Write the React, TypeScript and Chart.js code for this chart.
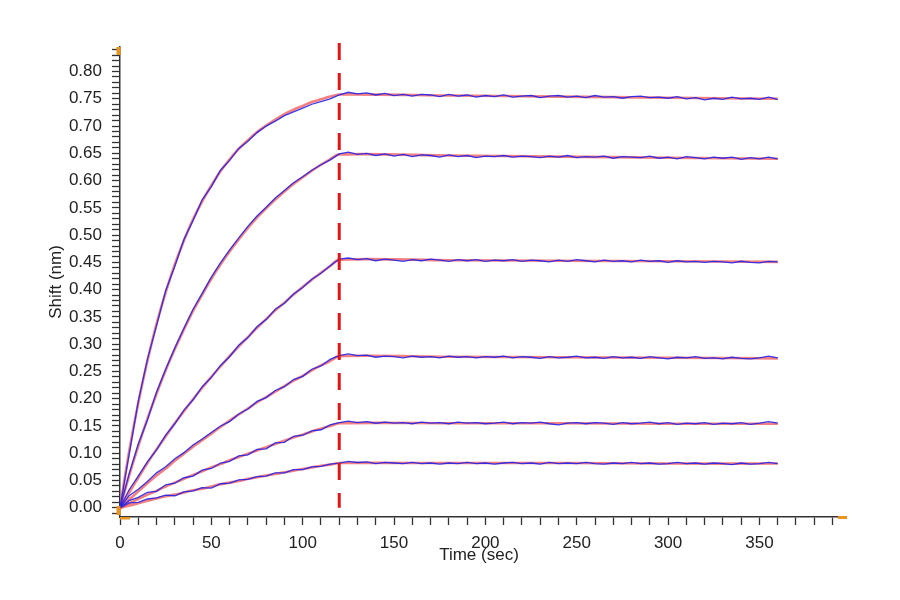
import React, { useEffect, useRef } from "react";
import { Chart, registerables } from "chart.js";

Chart.register(...registerables);

// sensor read-out times (s), one point every 5 s
const sensorTimes = [
  0, 5, 10, 15, 20, 25, 30, 35, 40, 45, 50, 55, 60, 65, 70, 75, 80, 85, 90, 95,
  100, 105, 110, 115, 120, 125, 130, 135, 140, 145, 150, 155, 160, 165, 170,
  175, 180, 185, 190, 195, 200, 205, 210, 215, 220, 225, 230, 235, 240, 245,
  250, 255, 260, 265, 270, 275, 280, 285, 290, 295, 300, 305, 310, 315, 320,
  325, 330, 335, 340, 345, 350, 355, 360,
];

// measured shift (nm), blue traces
const raw1 = [
  0, 0.098, 0.195, 0.272, 0.334, 0.398, 0.443, 0.492, 0.527, 0.565, 0.589, 0.619, 0.637,
  0.659, 0.672, 0.688, 0.7, 0.709, 0.719, 0.726, 0.733, 0.74, 0.745, 0.75, 0.757,
  0.762, 0.759, 0.761, 0.757, 0.76, 0.756, 0.758, 0.755, 0.758, 0.757,
  0.754, 0.758, 0.755, 0.757, 0.753, 0.756, 0.754, 0.757, 0.753, 0.755,
  0.756, 0.752, 0.755, 0.756, 0.753, 0.755, 0.752, 0.756, 0.753, 0.754,
  0.751, 0.754, 0.755, 0.752, 0.753, 0.751, 0.754, 0.75, 0.752, 0.748,
  0.751, 0.749, 0.753, 0.75, 0.751, 0.749, 0.753, 0.749,
];
const raw2 = [
  0, 0.062, 0.117, 0.161, 0.212, 0.254, 0.293, 0.329, 0.364, 0.393, 0.423, 0.449, 0.473,
  0.495, 0.516, 0.535, 0.551, 0.568, 0.582, 0.596, 0.607, 0.619, 0.629, 0.638, 0.649,
  0.652, 0.648, 0.65, 0.646, 0.649, 0.645, 0.648, 0.644, 0.647, 0.646,
  0.643, 0.647, 0.644, 0.646, 0.642, 0.645, 0.644, 0.646, 0.643, 0.645,
  0.644, 0.642, 0.645, 0.643, 0.646, 0.642, 0.644, 0.643, 0.645, 0.641,
  0.644, 0.643, 0.642, 0.645, 0.641, 0.643, 0.64, 0.644, 0.642, 0.64,
  0.643, 0.641, 0.643, 0.639, 0.642, 0.64, 0.643, 0.64,
];
const raw3 = [
  0, 0.033, 0.058, 0.084, 0.106, 0.133, 0.154, 0.179, 0.198, 0.222, 0.239, 0.261, 0.277,
  0.298, 0.312, 0.332, 0.345, 0.364, 0.375, 0.392, 0.404, 0.419, 0.43, 0.444, 0.456,
  0.458, 0.455, 0.457, 0.453, 0.456, 0.454, 0.452, 0.455, 0.453, 0.456,
  0.454, 0.452, 0.455, 0.453, 0.455, 0.452, 0.454, 0.453, 0.455, 0.452,
  0.454, 0.453, 0.451, 0.454, 0.452, 0.455, 0.453, 0.451, 0.454, 0.452,
  0.453, 0.451, 0.454, 0.452, 0.453, 0.45, 0.453, 0.451, 0.452, 0.45,
  0.452, 0.451, 0.449, 0.452, 0.45, 0.449, 0.452, 0.451,
];
const raw4 = [
  0, 0.022, 0.034, 0.048, 0.064, 0.075, 0.09, 0.101, 0.115, 0.126, 0.138, 0.15, 0.158,
  0.172, 0.181, 0.195, 0.202, 0.215, 0.222, 0.235, 0.241, 0.254, 0.26, 0.272, 0.279,
  0.282, 0.279, 0.28, 0.276, 0.278, 0.277, 0.275, 0.278, 0.276, 0.277,
  0.275, 0.278, 0.276, 0.277, 0.275, 0.277, 0.276, 0.278, 0.275, 0.277,
  0.276, 0.274, 0.277, 0.275, 0.276, 0.278, 0.275, 0.276, 0.274, 0.277,
  0.275, 0.276, 0.274, 0.277, 0.275, 0.273, 0.276, 0.275, 0.277, 0.274,
  0.275, 0.273, 0.276, 0.274, 0.273, 0.275, 0.278, 0.275,
];
const raw5 = [
  0, 0.013, 0.019, 0.028, 0.03, 0.042, 0.045, 0.055, 0.058, 0.069, 0.072, 0.082, 0.085,
  0.095, 0.097, 0.107, 0.108, 0.119, 0.12, 0.131, 0.133, 0.141, 0.143, 0.152, 0.156,
  0.159, 0.156, 0.158, 0.155, 0.157, 0.155, 0.156, 0.154, 0.157, 0.155,
  0.156, 0.154, 0.157, 0.155, 0.156, 0.154, 0.155, 0.157, 0.154, 0.156,
  0.155, 0.157, 0.154, 0.152, 0.155, 0.156, 0.154, 0.156, 0.155, 0.153,
  0.156, 0.154, 0.155, 0.157, 0.154, 0.156, 0.153, 0.155, 0.154, 0.156,
  0.153, 0.155, 0.154, 0.156, 0.153, 0.155, 0.158, 0.155,
];
const raw6 = [
  0, 0.009, 0.01, 0.016, 0.018, 0.023, 0.022, 0.029, 0.031, 0.037, 0.036, 0.044, 0.045,
  0.051, 0.052, 0.057, 0.058, 0.064, 0.064, 0.07, 0.07, 0.075, 0.076, 0.08, 0.082,
  0.085, 0.083, 0.084, 0.081, 0.083, 0.082, 0.081, 0.083, 0.081, 0.082,
  0.08, 0.082, 0.081, 0.083, 0.081, 0.082, 0.08, 0.082, 0.083, 0.081,
  0.082, 0.08, 0.083, 0.081, 0.082, 0.081, 0.083, 0.081, 0.08, 0.082,
  0.081, 0.083, 0.081, 0.082, 0.08, 0.081, 0.083, 0.081, 0.082, 0.08,
  0.082, 0.081, 0.079, 0.082, 0.08, 0.081, 0.083, 0.081,
];

// fitted curves (red): association every 5 s, dissociation every 60 s
const fitTimes = [
  0, 5, 10, 15, 20, 25, 30, 35, 40, 45, 50, 55, 60, 65, 70, 75, 80, 85, 90, 95,
  100, 105, 110, 115, 120, 180, 240, 300, 360,
];
const fit1 = [
  0, 0.103, 0.192, 0.269, 0.337, 0.395, 0.446, 0.49, 0.529, 0.562, 0.591, 0.617, 0.639,
  0.658, 0.674, 0.689, 0.701, 0.712, 0.722, 0.73, 0.737, 0.744, 0.749, 0.754, 0.758,
  0.756, 0.754, 0.752, 0.75,
];
const fit2 = [
  0, 0.059, 0.113, 0.163, 0.209, 0.252, 0.291, 0.327, 0.361, 0.391, 0.42, 0.446, 0.47,
  0.492, 0.513, 0.532, 0.549, 0.565, 0.58, 0.594, 0.606, 0.618, 0.629, 0.639, 0.648,
  0.646, 0.644, 0.642, 0.64,
];
const fit3 = [
  0, 0.028, 0.055, 0.082, 0.107, 0.131, 0.155, 0.177, 0.199, 0.22, 0.24, 0.259, 0.278,
  0.296, 0.313, 0.33, 0.346, 0.362, 0.376, 0.391, 0.405, 0.418, 0.431, 0.443, 0.455,
  0.454, 0.453, 0.452, 0.451,
];
const fit4 = [
  0, 0.015, 0.03, 0.045, 0.059, 0.072, 0.086, 0.099, 0.112, 0.124, 0.136, 0.148, 0.16,
  0.171, 0.182, 0.193, 0.203, 0.213, 0.223, 0.233, 0.242, 0.252, 0.261, 0.269, 0.278,
  0.277, 0.276, 0.275, 0.274,
];
const fit5 = [
  0, 0.008, 0.016, 0.024, 0.031, 0.039, 0.046, 0.053, 0.06, 0.067, 0.074, 0.08, 0.087,
  0.093, 0.099, 0.105, 0.111, 0.117, 0.123, 0.129, 0.134, 0.14, 0.145, 0.15, 0.155,
  0.155, 0.155, 0.154, 0.154,
];
const fit6 = [
  0, 0.004, 0.008, 0.013, 0.017, 0.021, 0.024, 0.028, 0.032, 0.035, 0.039, 0.043, 0.046,
  0.049, 0.053, 0.056, 0.059, 0.062, 0.065, 0.068, 0.071, 0.074, 0.077, 0.079, 0.082,
  0.082, 0.082, 0.081, 0.081,
];

const rawSeries = [raw1, raw2, raw3, raw4, raw5, raw6];
const fitSeries = [fit1, fit2, fit3, fit4, fit5, fit6];
const stepTime = 120; // association -> dissociation switch

const FONT = "'Liberation Sans', Arial, sans-serif";

const markerPlugin = {
  id: "markers",
  afterDatasetsDraw(chart: any) {
    const { ctx, chartArea } = chart;
    const x = chart.scales.x.getPixelForValue(stepTime);
    const y0 = chart.scales.y.getPixelForValue(0);
    ctx.save();
    ctx.strokeStyle = "#e01515";
    ctx.lineWidth = 3;
    ctx.setLineDash([17, 13]);
    ctx.beginPath();
    ctx.moveTo(x, chartArea.top - 4);
    ctx.lineTo(x, y0);
    ctx.stroke();
    ctx.restore();
  },
  afterDraw(chart: any) {
    const { ctx, chartArea } = chart;
    const l = chartArea.left;
    const b = chartArea.bottom;
    ctx.save();
    ctx.fillStyle = "#e8941e";
    ctx.fillRect(l - 3.5, chartArea.top, 4, 8);
    ctx.fillRect(l - 3.5, b - 11, 4, 9);
    ctx.fillRect(l, b, 10, 2.5);
    ctx.fillRect(chartArea.right, b - 1, 9, 3);
    ctx.restore();
  },
};

const App = () => {
  const canvasRef = useRef<HTMLCanvasElement>(null);

  useEffect(() => {
    if (!canvasRef.current) return;
    Chart.defaults.font.family = FONT;

    const rawSets = rawSeries.map((vals, i) => ({
      label: "raw " + (i + 1),
      data: sensorTimes.map((t, j) => ({ x: t, y: vals[j] })),
      borderColor: "rgba(35,35,235,0.9)",
      borderWidth: 1.3,
      pointRadius: 0,
      tension: 0,
      fill: false,
    }));
    const fitSets = fitSeries.map((vals, i) => ({
      label: "fit " + (i + 1),
      data: fitTimes.map((t, j) => ({ x: t, y: vals[j] })),
      borderColor: "rgba(240,95,95,0.8)",
      borderWidth: 2.6,
      pointRadius: 0,
      tension: 0.3,
      fill: false,
    }));

    const chart = new Chart(canvasRef.current, {
      type: "line",
      data: { datasets: [...rawSets, ...fitSets] },
      options: {
        animation: false,
        responsive: true,
        maintainAspectRatio: false,
        layout: { padding: { left: 46, right: 62, top: 47, bottom: 34 } },
        plugins: {
          legend: { display: false },
          tooltip: { enabled: false },
        },
        scales: {
          x: {
            type: "linear",
            min: 0,
            max: 393,
            afterFit: (s: any) => {
              s.height = 49;
            },
            grid: {
              drawOnChartArea: false,
              tickLength: 8,
              color: "#333",
              tickWidth: 1.3,
            },
            border: { color: "#333", width: 1.5 },
            ticks: {
              stepSize: 10,
              autoSkip: false,
              maxRotation: 0,
              includeBounds: false,
              padding: 8,
              color: "#222",
              font: { size: 17 },
              callback: (v: any) => (Math.round(v) % 50 === 0 ? String(v) : ""),
            },
            title: {
              display: true,
              text: "Time (sec)",
              color: "#222",
              font: { size: 17 },
              padding: 0,
            },
          },
          y: {
            type: "linear",
            min: -0.017,
            max: 0.845,
            afterFit: (s: any) => {
              s.width = 74;
            },
            grid: {
              drawOnChartArea: false,
              tickLength: 8,
              color: "#333",
              tickWidth: 1.3,
            },
            border: { color: "#333", width: 1.5 },
            ticks: {
              stepSize: 0.01,
              autoSkip: false,
              includeBounds: false,
              padding: 10,
              color: "#222",
              font: { size: 17 },
              callback: (v: any) => {
                const n = Math.round(v * 100);
                return n >= 0 && n % 5 === 0 ? (n / 100).toFixed(2) : "";
              },
            },
            title: {
              display: true,
              text: "Shift (nm)",
              color: "#222",
              font: { size: 17 },
              padding: 0,
            },
          },
        },
      },
      plugins: [markerPlugin],
    });

    return () => {
      chart.destroy();
    };
  }, []);

  return (
    <div
      style={{
        position: "fixed",
        left: 0,
        top: 0,
        width: 900,
        height: 600,
        background: "#fff",
      }}
    >
      <canvas ref={canvasRef} />
    </div>
  );
};

export default App;
